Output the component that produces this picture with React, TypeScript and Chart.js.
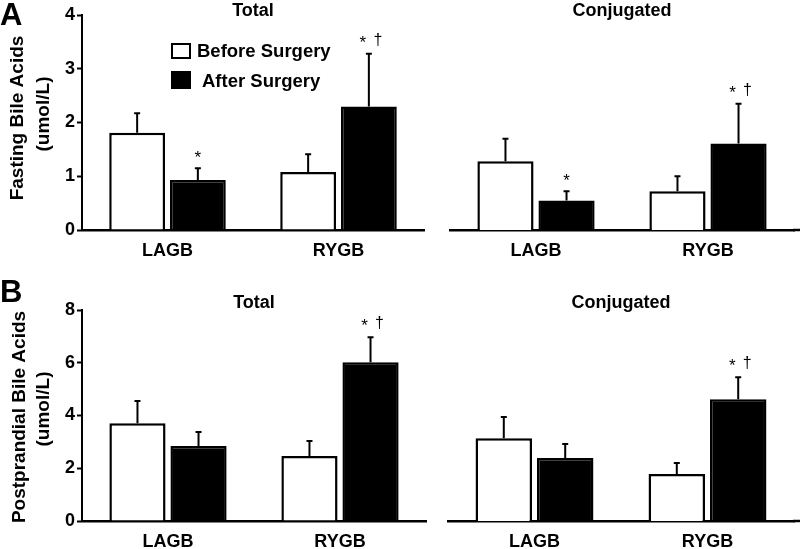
import React, { useEffect, useRef } from 'react';
import { Chart, registerables } from 'chart.js';

Chart.register(...registerables);

const FONT = "'Liberation Sans', Arial, Helvetica, sans-serif";

const categories = ['LAGB', 'RYGB'];
const seriesLabels = ['Before Surgery', 'After Surgery'];

const fastingTotalBefore = [1.81, 1.08];
const fastingTotalBeforeSem = [0.36, 0.33];
const fastingTotalAfter = [0.93, 2.3];
const fastingTotalAfterSem = [0.22, 0.98];
const fastingTotalAfterMarks = ['*', '*†'];

const fastingConjBefore = [1.28, 0.72];
const fastingConjBeforeSem = [0.42, 0.28];
const fastingConjAfter = [0.55, 1.61];
const fastingConjAfterSem = [0.17, 0.74];
const fastingConjAfterMarks = ['*', '*†'];

const postTotalBefore = [3.71, 2.46];
const postTotalBeforeSem = [0.84, 0.57];
const postTotalAfter = [2.84, 6.02];
const postTotalAfterSem = [0.53, 0.95];
const postTotalAfterMarks = ['', '*†'];

const postConjBefore = [3.14, 1.78];
const postConjBeforeSem = [0.8, 0.42];
const postConjAfter = [2.39, 4.62];
const postConjAfterSem = [0.53, 0.83];
const postConjAfterMarks = ['', '*†'];

const fastingTicks = [0, 1, 2, 3, 4];
const postTicks = [0, 2, 4, 6, 8];

const panelTitles = ['Total', 'Conjugated'];
const fastingAxisTitle = ['Fasting Bile Acids', '(umol/L)'];
const postAxisTitle = ['Postprandial Bile Acids', '(umol/L)'];
const panelLetters = ['A', 'B'];

type PanelProps = {
  left: number;
  top: number;
  width: number;
  height: number;
  areaLeft: number;
  areaRight: number;
  areaTop: number;
  areaBottom: number;
  axisEnd?: number;
  before: number[];
  beforeSem: number[];
  after: number[];
  afterSem: number[];
  marks: string[];
  ticks: number[];
  showY: boolean;
  title: string;
  titleBaseline: number;
  letter?: string;
  letterBaseline?: number;
  axisTitle?: string[];
  axisTitleX?: number[];
  axisTitleY?: number[];
  legend?: boolean;
};

function Panel(p: PanelProps) {
  const ref = useRef<HTMLCanvasElement | null>(null);

  useEffect(() => {
    const canvas = ref.current;
    if (!canvas) return;

    const overlay = {
      id: 'overlay',
      afterDatasetsDraw(chart: any) {
        const ctx = chart.ctx as CanvasRenderingContext2D;
        const ys = chart.scales.y;
        const area = chart.chartArea;
        const sems = [p.beforeSem, p.afterSem];
        ctx.save();

        // continuation of the category axis line
        if (p.axisEnd && p.axisEnd > area.right) {
          ctx.strokeStyle = '#000';
          ctx.lineWidth = 2.5;
          ctx.beginPath();
          ctx.moveTo(area.right - 1, chart.scales.x.top);
          ctx.lineTo(p.axisEnd, chart.scales.x.top);
          ctx.stroke();
        }

        chart.data.datasets.forEach((ds: any, i: number) => {
          const meta = chart.getDatasetMeta(i);
          meta.data.forEach((el: any, j: number) => {
            const v = ds.data[j] as number;
            const e = sems[i][j];
            const x = el.x;
            const y0 = el.y;
            const y1 = ys.getPixelForValue(v + e);
            ctx.strokeStyle = '#000';
            ctx.lineWidth = 2;
            ctx.beginPath();
            ctx.moveTo(x, y0);
            ctx.lineTo(x, y1);
            ctx.moveTo(x - 3, y1);
            ctx.lineTo(x + 3, y1);
            ctx.stroke();
            if (i === 1) {
              const m = p.marks[j];
              ctx.fillStyle = '#000';
              ctx.textAlign = 'center';
              ctx.textBaseline = 'alphabetic';
              if (m === '*') {
                ctx.font = `17px ${FONT}`;
                ctx.fillText('*', x, y1 - 5);
              } else if (m === '*†') {
                ctx.font = `17px ${FONT}`;
                ctx.fillText('*', x - 6, y1 - 6);
                ctx.font = `16px ${FONT}`;
                ctx.fillText('†', x + 9, y1 - 9);
              }
            }
          });
        });

        // panel title
        ctx.fillStyle = '#000';
        ctx.font = `bold 18px ${FONT}`;
        ctx.textAlign = 'center';
        ctx.textBaseline = 'alphabetic';
        ctx.fillText(p.title, (area.left + area.right) / 2, p.titleBaseline);

        // panel letter
        if (p.letter) {
          ctx.font = `bold 31px ${FONT}`;
          ctx.textAlign = 'left';
          ctx.fillText(p.letter, 0, p.letterBaseline || 25);
        }

        // y axis title
        if (p.axisTitle && p.axisTitleX && p.axisTitleY) {
          ctx.font = `bold 19px ${FONT}`;
          ctx.textAlign = 'center';
          ctx.textBaseline = 'middle';
          p.axisTitle.forEach((t, k) => {
            ctx.save();
            ctx.translate(p.axisTitleX![k], p.axisTitleY![k]);
            ctx.rotate(-Math.PI / 2);
            ctx.fillText(t, 0, 0);
            ctx.restore();
          });
        }

        // legend
        if (p.legend) {
          const entries = chart.data.datasets.map((ds: any) => ({
            label: ds.label,
            fill: ds.backgroundColor,
          }));
          const boxes = [
            { x: 172, y: 44, w: 18, h: 14, tx: 197, tb: 57 },
            { x: 172, y: 72, w: 18, h: 16, tx: 202, tb: 87 },
          ];
          entries.forEach((en: any, k: number) => {
            const b = boxes[k];
            ctx.fillStyle = en.fill;
            ctx.fillRect(b.x, b.y, b.w, b.h);
            ctx.strokeStyle = '#000';
            ctx.lineWidth = 2;
            ctx.strokeRect(b.x, b.y, b.w, b.h);
            ctx.fillStyle = '#000';
            ctx.font = `bold 18.5px ${FONT}`;
            ctx.textAlign = 'left';
            ctx.textBaseline = 'alphabetic';
            ctx.fillText(en.label, b.tx, b.tb);
          });
        }
        ctx.restore();
      },
    };

    const tickFont = { family: FONT, size: 18, weight: 'bold' as const };
    const step = p.ticks[1] - p.ticks[0];

    const chart = new Chart(canvas, {
      type: 'bar',
      data: {
        labels: categories,
        datasets: [
          {
            label: seriesLabels[0],
            data: p.before,
            backgroundColor: '#ffffff',
            borderColor: '#000000',
            borderWidth: 2.5,
            categoryPercentage: 0.71,
            barPercentage: 0.92,
          },
          {
            label: seriesLabels[1],
            data: p.after,
            backgroundColor: '#000000',
            borderColor: '#000000',
            borderWidth: 2.5,
            categoryPercentage: 0.71,
            barPercentage: 0.92,
          },
        ],
      },
      options: {
        animation: false,
        responsive: false,
        maintainAspectRatio: false,
        devicePixelRatio: 1,
        events: [],
        layout: {
          padding: {
            top: p.areaTop,
            left: 0,
            right: p.width - p.areaRight,
            bottom: 0,
          },
        },
        plugins: {
          legend: { display: false },
          tooltip: { enabled: false },
          title: { display: false },
        },
        scales: {
          x: {
            grid: { display: false, drawTicks: false },
            border: { display: true, color: '#000', width: 2.5 },
            ticks: { color: '#000', font: tickFont, padding: 10 },
            afterFit: (s: any) => {
              s.height = p.height - p.areaBottom;
            },
          },
          y: {
            display: p.showY,
            min: p.ticks[0],
            max: p.ticks[p.ticks.length - 1],
            ticks: { stepSize: step, color: '#000', font: tickFont, padding: 2 },
            grid: {
              drawOnChartArea: false,
              drawTicks: true,
              tickLength: 5,
              tickColor: '#000',
              tickWidth: 2,
            },
            border: { display: true, color: '#000', width: 2 },
            afterFit: (s: any) => {
              s.width = p.areaLeft;
            },
          },
        },
      } as any,
      plugins: [overlay],
    });

    return () => {
      chart.destroy();
    };
  }, []);

  return (
    <canvas
      ref={ref}
      width={p.width}
      height={p.height}
      style={{
        position: 'absolute',
        left: p.left,
        top: p.top,
        width: p.width,
        height: p.height,
      }}
    />
  );
}

export default function App() {
  return (
    <div
      style={{
        position: 'fixed',
        left: 0,
        top: 0,
        width: 800,
        height: 549,
        background: '#fff',
        overflow: 'hidden',
      }}
    >
      <Panel
        left={0}
        top={0}
        width={430}
        height={270}
        areaLeft={82}
        areaRight={424}
        areaTop={15}
        areaBottom={230}
        before={fastingTotalBefore}
        beforeSem={fastingTotalBeforeSem}
        after={fastingTotalAfter}
        afterSem={fastingTotalAfterSem}
        marks={fastingTotalAfterMarks}
        ticks={fastingTicks}
        showY={true}
        title={panelTitles[0]}
        titleBaseline={16}
        letter={panelLetters[0]}
        letterBaseline={25}
        axisTitle={fastingAxisTitle}
        axisTitleX={[18, 44]}
        axisTitleY={[118, 114]}
        legend={true}
      />
      <Panel
        left={430}
        top={0}
        width={370}
        height={270}
        areaLeft={20}
        areaRight={364}
        axisEnd={370}
        areaTop={15}
        areaBottom={230}
        before={fastingConjBefore}
        beforeSem={fastingConjBeforeSem}
        after={fastingConjAfter}
        afterSem={fastingConjAfterSem}
        marks={fastingConjAfterMarks}
        ticks={fastingTicks}
        showY={false}
        title={panelTitles[1]}
        titleBaseline={16}
      />
      <Panel
        left={0}
        top={270}
        width={430}
        height={279}
        areaLeft={82}
        areaRight={426}
        areaTop={40}
        areaBottom={251}
        before={postTotalBefore}
        beforeSem={postTotalBeforeSem}
        after={postTotalAfter}
        afterSem={postTotalAfterSem}
        marks={postTotalAfterMarks}
        ticks={postTicks}
        showY={true}
        title={panelTitles[0]}
        titleBaseline={38}
        letter={panelLetters[1]}
        letterBaseline={32}
        axisTitle={postAxisTitle}
        axisTitleX={[20, 44]}
        axisTitleY={[147, 139]}
      />
      <Panel
        left={430}
        top={270}
        width={370}
        height={279}
        areaLeft={18}
        areaRight={364}
        axisEnd={370}
        areaTop={40}
        areaBottom={251}
        before={postConjBefore}
        beforeSem={postConjBeforeSem}
        after={postConjAfter}
        afterSem={postConjAfterSem}
        marks={postConjAfterMarks}
        ticks={postTicks}
        showY={false}
        title={panelTitles[1]}
        titleBaseline={38}
      />
    </div>
  );
}
